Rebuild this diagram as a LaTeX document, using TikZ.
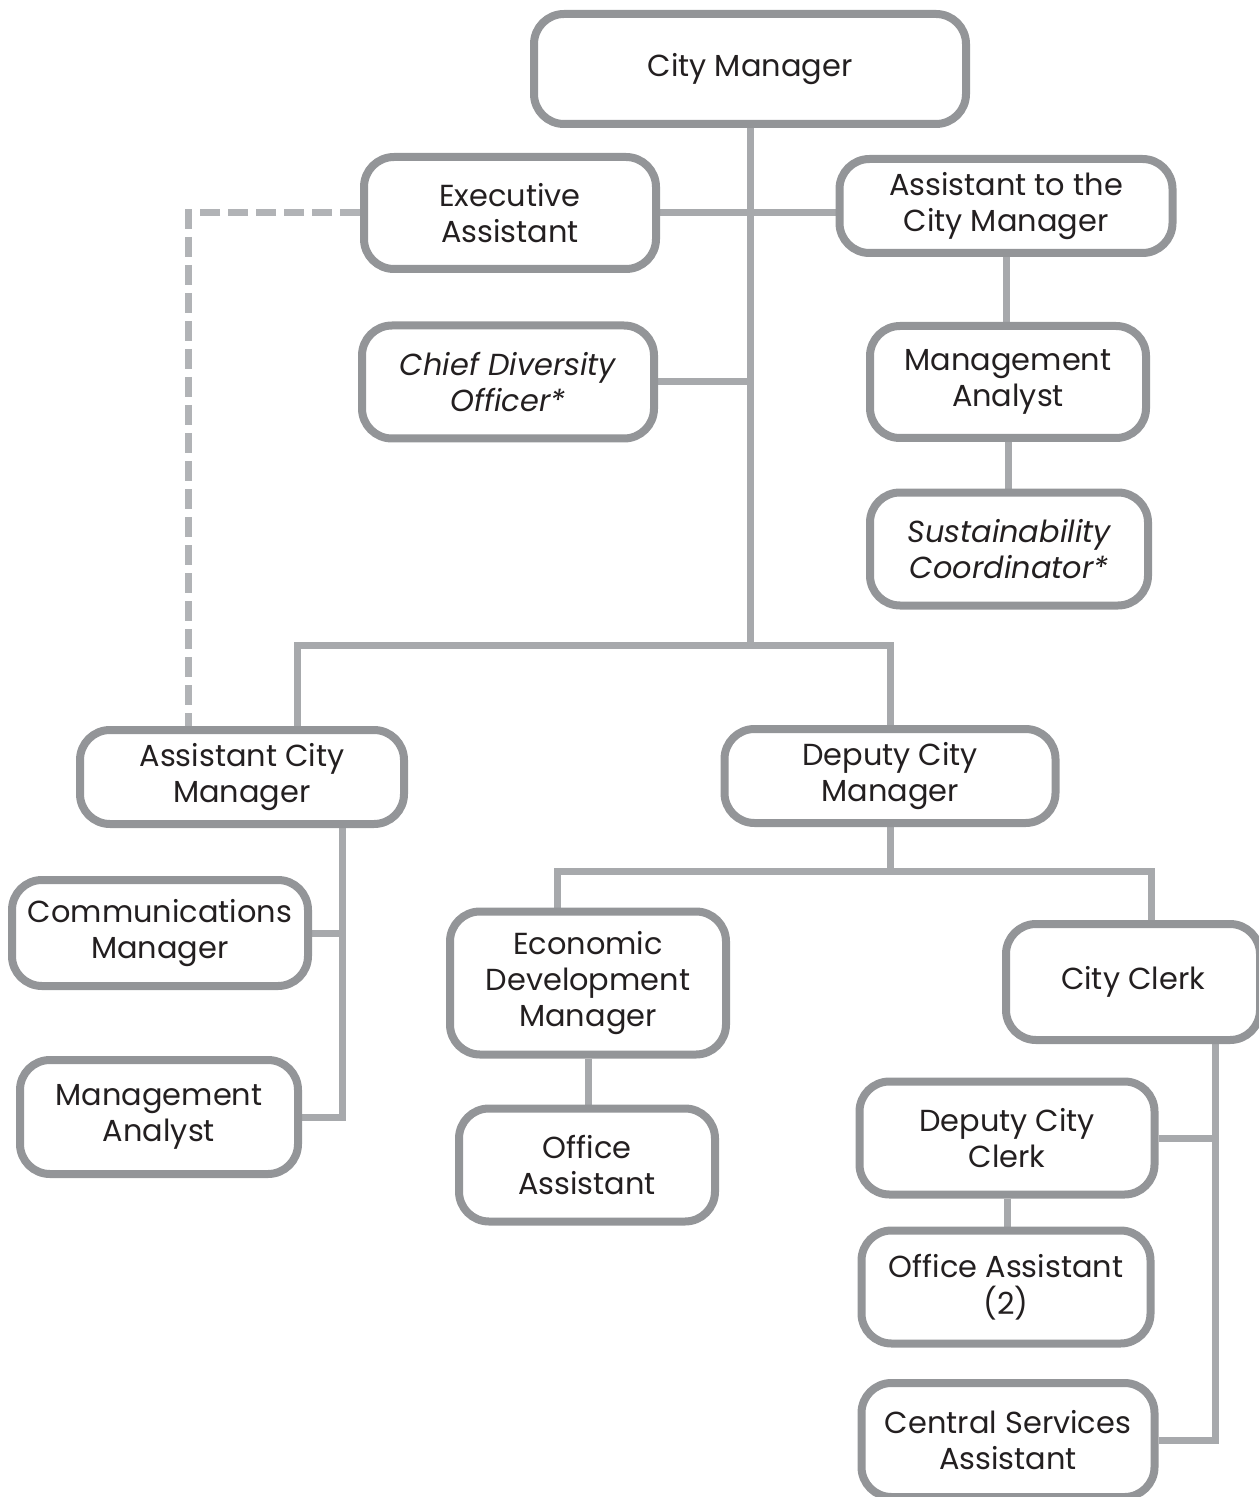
\documentclass[tikz,border=0pt]{standalone}
\usepackage{fontspec}
\setmainfont{Poppins}
\usetikzlibrary{positioning,backgrounds}
\definecolor{BoxGray}{HTML}{939598}
\definecolor{LinkGray}{HTML}{A7A9AC}
\definecolor{DashGray}{HTML}{B1B3B6}
\definecolor{InkBlack}{HTML}{231F20}
\tikzset{
  post/.style={rectangle,rounded corners=15pt,draw=BoxGray,line width=4pt,fill=white,align=center,text=InkBlack,inner sep=0pt,font=\fontsize{15.2}{18.2}\selectfont},
  link/.style={draw=LinkGray,line width=3.5pt},
  dotlink/.style={draw=DashGray,line width=3.5pt,dash pattern=on 10pt off 4pt},
}
\begin{document}
\begin{tikzpicture}[x=0.5pt,y=-0.5pt]
  \useasboundingbox (0,0) rectangle (1258,1497);

  % Top: City Manager and its staff
  \node[post, minimum width=216pt, minimum height=55pt] (cm) at (750,69) {City Manager};
  \node[post, minimum width=146pt, minimum height=56pt] (ea) at (510,213) {Executive\\Assistant};
  \node[post, minimum width=166.5pt, minimum height=47pt] (atcm) at (1006,206) {Assistant to the\\City Manager};
  \node[post, minimum width=146pt, minimum height=56.5pt] (cdo) at (508,382) {\itshape Chief Diversity\\\itshape Officer*};
  \node[post, minimum width=138pt, minimum height=56pt] (manR) at (1008,382) {Management\\Analyst};
  \node[post, minimum width=139pt, minimum height=56.5pt] (sust) at (1009,549) {\itshape Sustainability\\\itshape Coordinator*};

  % Middle: the two deputies
  \node[post, minimum width=162pt, minimum height=47pt] (acm) at (242,777) {Assistant City\\Manager};
  \node[post, minimum width=165.5pt, minimum height=47pt] (dcm) at (890,776) {Deputy City\\Manager};

  % Assistant City Manager staff
  \node[post, minimum width=148pt, minimum height=53pt] (comm) at (160,933) {Communications\\Manager};
  \node[post, minimum width=139pt, minimum height=57pt] (manL) at (159,1117) {Management\\Analyst};

  % Deputy City Manager staff
  \node[post, minimum width=138pt, minimum height=71.5pt] (edm) at (588,983) {Economic\\Development\\Manager};
  \node[post, minimum width=128pt, minimum height=56.5pt] (offA) at (587,1165) {Office\\Assistant};
  \node[post, minimum width=127pt, minimum height=58pt] (clerk) at (1133,982) {City Clerk};
  \node[post, minimum width=147.5pt, minimum height=56.5pt] (dclerk) at (1007,1138) {Deputy City\\Clerk};
  \node[post, minimum width=144.5pt, minimum height=56.5pt] (offB) at (1006,1287) {Office Assistant\\(2)};
  \node[post, minimum width=146.5pt, minimum height=57pt] (csa) at (1008,1440) {Central Services\\Assistant};

  % branch levels and drop points
  \coordinate (lvlA) at (0,645);
  \coordinate (lvlB) at (0,871);
  \coordinate (acmDrop) at ([xshift=27.5pt]acm.north);
  \coordinate (acmDash) at ([xshift=-27pt]acm.north);
  \coordinate (acmSpine) at ([xshift=50pt]acm.south);
  \coordinate (edmDrop) at ([xshift=-15.5pt]edm.north);
  \coordinate (clerkDrop) at ([xshift=9pt]clerk.north);
  \coordinate (clerkSpine) at ([xshift=41pt]clerk.south);

  \begin{scope}[on background layer]
    % trunk
    \draw[link] (cm.south) -- (cm.south |- lvlA);
    \draw[link] (ea.east) -- (ea.east -| atcm.west);
    \draw[link] (cdo.east) -- (cdo.east -| cm.south);
    \draw[link] (atcm.south) -- (atcm.south |- manR.north);
    \draw[link] (manR.south) -- (manR.south |- sust.north);
    % split to deputies
    \draw[link] (acmDrop) |- (lvlA -| dcm.north) -- (dcm.north);
    \draw[dotlink] (ea.west) -| (acmDash);
    % Assistant City Manager branch
    \draw[link] (acmSpine) |- (manL.east);
    \draw[link] (comm.east) -- (comm.east -| acmSpine);
    % Deputy City Manager branch
    \draw[link] (dcm.south) -- (dcm.south |- lvlB);
    \draw[link] (edmDrop) |- (clerkDrop |- lvlB) -- (clerkDrop);
    \draw[link] (edm.south) -- (edm.south |- offA.north);
    % City Clerk branch
    \draw[link] (clerkSpine) |- (csa.east);
    \draw[link] (dclerk.east) -- (dclerk.east -| clerkSpine);
    \draw[link] (dclerk.south) -- (dclerk.south |- offB.north);
  \end{scope}
\end{tikzpicture}
\end{document}
